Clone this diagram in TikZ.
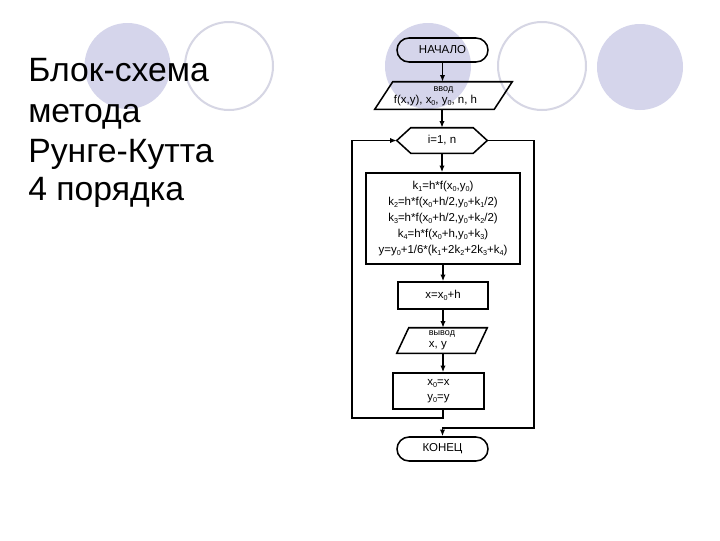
\documentclass[tikz,border=0pt]{standalone}
\usepackage{fontspec}
\setmainfont{Liberation Sans}
\usetikzlibrary{arrows.meta,calc}
\definecolor{lav}{RGB}{213,213,235}
\definecolor{ringcol}{RGB}{214,214,228}
\newcommand{\sbs}[1]{\raisebox{-0.45ex}{\fontsize{5.4}{6}\selectfont #1}}
\begin{document}
\begin{tikzpicture}[x=0.75pt,y=-0.75pt,
  conn/.style={line width=1.15pt,draw=black},
  arr/.style={conn,-{Latex[length=5pt,width=4pt]}},
  ffont/.style={font=\fontsize{8.6}{12}\selectfont},
  termbox/.style={draw,conn,rounded corners=9pt,minimum width=68.25pt,minimum height=18pt,inner sep=0pt,ffont},
  procbox/.style={draw,conn,inner sep=0pt,ffont,align=center},
  iobox/.style={inner sep=0pt,ffont},
  ttl/.style={anchor=base west,font=\fontsize{25.3}{30}\selectfont,inner sep=0pt},
  filledc/.style={fill=lav},
  ringc/.style={draw=ringcol,line width=1.5pt},
]
\useasboundingbox (0,0) rectangle (720,540);
\fill[white] (0,0) rectangle (720,540);
% decorative circles
\path[filledc] (127.5,66) circle[radius=32.25pt];
\path[ringc] (229,66) circle[radius=33pt];
\path[filledc] (428,66) circle[radius=32.25pt];
\path[ringc] (542,66) circle[radius=33pt];
\path[filledc] (640,67) circle[radius=32.25pt];
% title
\node[ttl] (t1) at (28,81) {Блок-схема};
\node[ttl] (t2) at (28,122) {метода};
\node[ttl] (t3) at (28,162) {Рунге-Кутта};
\node[ttl] (t4) at (28,200) {4 порядка};
% flowchart
\node[termbox] (start) at (442.5,50) {НАЧАЛО};
\node[iobox,minimum width=102.75pt,minimum height=19.5pt,align=center,font=\fontsize{8.6}{9}\selectfont] (in) at (443.5,96) {{\fontsize{6.8}{7}\selectfont ввод}\\f(x,y), x\sbs{0}, y\sbs{0}, n, h\hspace*{12pt}};
\draw[conn] ($(in.north west)+(18,-1)$) -- ($(in.north east)+(0,-1)$) -- ($(in.south east)+(-18,0)$) -- (in.south west) -- cycle;
\node[iobox,minimum width=67.5pt,minimum height=18.75pt] (loop) at (442,140.5) {i=1, n};
\draw[conn] (loop.west) -- ($(loop.north west)+(14,0)$) -- ($(loop.north east)+(-14,0)$) -- (loop.east) -- ($(loop.south east)+(-14,0)$) -- ($(loop.south west)+(14,0)$) -- cycle;
\node[procbox,minimum width=115.5pt,minimum height=68.25pt] (calc) at (443,218.5) {k\sbs{1}=h*f(x\sbs{0},y\sbs{0})\\k\sbs{2}=h*f(x\sbs{0}+h/2,y\sbs{0}+k\sbs{1}/2)\\k\sbs{3}=h*f(x\sbs{0}+h/2,y\sbs{0}+k\sbs{2}/2)\\k\sbs{4}=h*f(x\sbs{0}+h,y\sbs{0}+k\sbs{3})\\y=y\sbs{0}+1/6*(k\sbs{1}+2k\sbs{2}+2k\sbs{3}+k\sbs{4})};
\node[procbox,minimum width=67.5pt,minimum height=20.25pt] (stepx) at (443,295.5) {x=x\sbs{0}+h};
\node[iobox,minimum width=67.5pt,minimum height=18.75pt,align=left,font=\fontsize{8.6}{9}\selectfont] (out) at (442,340.5) {{\fontsize{6.8}{7}\selectfont вывод}\\x, y};
\draw[conn] ($(out.north west)+(12,0)$) -- (out.north east) -- ($(out.south east)+(-12,0)$) -- (out.south west) -- cycle;
\node[procbox,minimum width=68.25pt,minimum height=27pt,font=\fontsize{8.6}{11.25}\selectfont] (asg) at (438.5,391) {x\sbs{0}=x\\y\sbs{0}=y};
\node[termbox] (stop) at (442.5,449) {КОНЕЦ};
% connectors
\coordinate (lb) at (352,418);
\coordinate (rb) at (534,428);
\draw[arr] (start.south) -- ($(start.south |- in.north)+(0,-1)$);
\draw[arr] (loop.north |- in.south) -- (loop.north);
\draw[arr] (loop.south) -- (loop.south |- calc.north);
\draw[arr] (stepx.north |- calc.south) -- (stepx.north);
\draw[arr] (stepx.south) -- (stepx.south |- out.north);
\draw[arr] (stepx.south |- out.south) -- (stepx.south |- asg.north);
\draw[arr] (stepx.south |- asg.south) -- (stepx.south |- lb) -- (lb) -- (lb |- loop.west) -- (loop.west);
\draw[arr] (loop.east) -- (rb |- loop.east) -- (rb) -- (stop.north |- rb) -- (stop.north);
\end{tikzpicture}
\end{document}
